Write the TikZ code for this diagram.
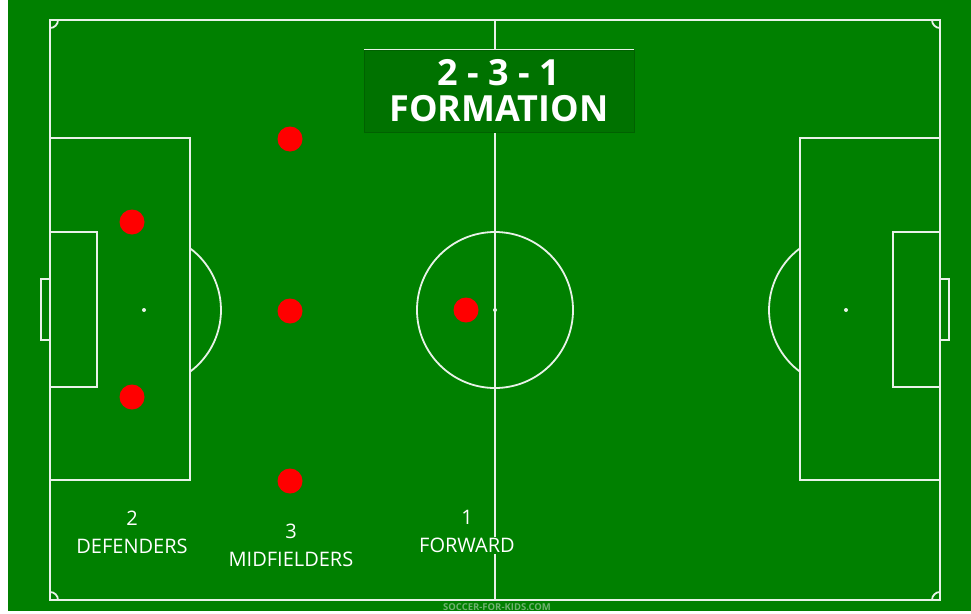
\documentclass[tikz,border=0pt]{standalone}
\usepackage{fontspec}
\setmainfont{Open Sans}
\usetikzlibrary{positioning}
\definecolor{pitch}{RGB}{0,128,0}
\definecolor{chalk}{RGB}{232,242,232}
\definecolor{banner}{RGB}{0,114,0}
\definecolor{credit}{RGB}{112,178,112}

\begin{document}
\begin{tikzpicture}[x=1pt, y=-1pt]
    \tikzset{line/.style={draw=chalk, line width=1.8pt},
        spot/.style={circle, fill=chalk, minimum size=4pt, inner sep=0pt},
        player/.style={circle, fill=red, minimum size=25pt, inner sep=0pt},
        caption/.style={text=white, align=center, font=\fontsize{20}{28}\selectfont}
    }

    \useasboundingbox (0,0) rectangle (971,613);
    \fill[white] (0,0) rectangle (971,613);
    \fill[pitch] (8,0) rectangle (971,611);

    % pitch markings
    \draw[line] (50,20) rectangle (940,600);
    \draw[line] (495,20) -- (495,600);
    \draw[line] (495,310) circle [radius=78pt];
    \node (Centre) [spot] at (495,310) {};
    \foreach \x / \y / \a / \b in {50/20/0/-90, 940/20/180/270, 50/600/0/90, 940/600/180/90} {
        \draw[line] (\x,\y) ++(\a:8pt) arc[start angle=\a, end angle=\b, radius=8pt];
    }

    % left end
    \draw[line] (50,138) rectangle (190,480);
    \draw[line] (50,232) rectangle (97,387);
    \draw[line] (41,279) rectangle (50,340);
    \node (L-Spot) [spot] at (144,310) {};
    \draw[line] (L-Spot.center) ++(53.3:77pt) arc[start angle=53.3, end angle=-53.3, radius=77pt];

    % right end
    \draw[line] (800,138) rectangle (940,480);
    \draw[line] (893,232) rectangle (940,387);
    \draw[line] (940,279) rectangle (949,340);
    \node (R-Spot) [spot] at (846,310) {};
    \draw[line] (R-Spot.center) ++(126.7:77pt) arc[start angle=126.7, end angle=233.3, radius=77pt];

    % title
    \node (Banner) [fill=banner, draw=banner!85!black, minimum width=270pt, minimum height=82pt] at (499,91) {};
    \draw[chalk, line width=1.2pt] (Banner.north west) -- (Banner.north east);
    \node (Title) [text=white, align=center, font=\bfseries\fontsize{36}{36}\selectfont] at (Banner.center) {2 - 3 - 1\\FORMATION};

    % players
    \node (Def1) [player] at (132,222) {};
    \node (Def2) [player] at (132,397) {};
    \node (Mid1) [player] at (290,139) {};
    \node (Mid2) [player] at (290,311) {};
    \node (Mid3) [player] at (290,481) {};
    \node (Fwd) [player] at (466,310) {};

    % captions
    \node (Def-Label) [caption] at (132,532) {2\\DEFENDERS};
    \node (Mid-Label) [caption] at (291,545) {3\\MIDFIELDERS};
    \node (Fwd-Label) [caption] at (467,532) {1\\{\fboxsep=1pt\colorbox{pitch}{FORWARD}}};
    \node (Credit) [text=credit, font=\bfseries\fontsize{9.5}{10}\selectfont] at (497,607) {SOCCER-FOR-KIDS.COM};
\end{tikzpicture}
\end{document}
